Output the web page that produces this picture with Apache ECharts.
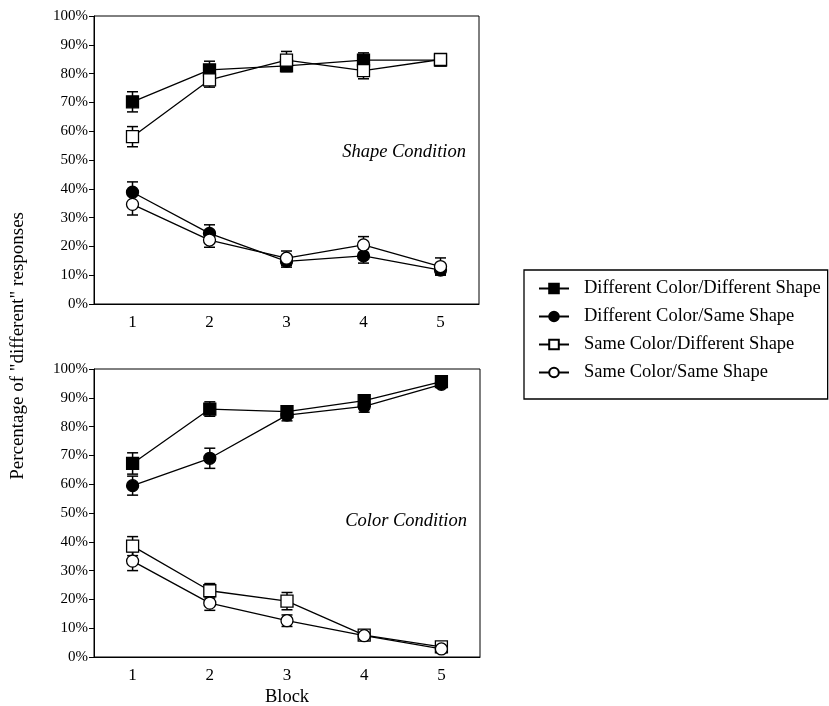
<!DOCTYPE html>
<html><head><meta charset="utf-8">
<script src="https://cdn.jsdelivr.net/npm/echarts@6/dist/echarts.min.js"></script>
<style>html,body{margin:0;padding:0;background:#fff}#c{width:829px;height:706px}</style>
</head><body><div id="c"></div>
<script>
const blocks = ['1', '2', '3', '4', '5'];
const yTicks = [0, 10, 20, 30, 40, 50, 60, 70, 80, 90, 100];
const seriesNames = ['Different Color/Different Shape', 'Different Color/Same Shape', 'Same Color/Different Shape', 'Same Color/Same Shape'];

// Shape Condition (top panel): means and standard errors
const shapeDCDS = [70.2, 81.3, 82.7, 84.7, 84.7];
const shapeDCDSerr = [3.5, 3.0, 2.0, 2.5, 2.0];
const shapeDCSS = [38.8, 24.5, 14.8, 16.7, 11.8];
const shapeDCSSerr = [3.6, 3.0, 2.0, 2.5, 1.5];
const shapeSCDS = [58.1, 77.8, 84.7, 81.0, 84.9];
const shapeSCDSerr = [3.5, 2.5, 3.0, 2.8, 2.0];
const shapeSCSS = [34.6, 22.2, 15.9, 20.5, 13.0];
const shapeSCSSerr = [3.7, 2.5, 2.5, 2.9, 3.0];

// Color Condition (bottom panel)
const colorDCDS = [67.2, 86.1, 85.2, 89.0, 95.6];
const colorDCDSerr = [3.7, 2.5, 2.0, 2.0, 1.0];
const colorDCSS = [59.5, 69.0, 84.0, 87.0, 94.7];
const colorDCSSerr = [3.3, 3.5, 2.0, 2.0, 1.0];
const colorSCDS = [38.5, 23.0, 19.4, 7.6, 3.5];
const colorSCDSerr = [3.3, 2.5, 3.0, 1.5, 1.0];
const colorSCSS = [33.3, 18.7, 12.6, 7.4, 2.8];
const colorSCSSerr = [3.3, 2.5, 2.0, 1.5, 1.0];

const FONT = 'Liberation Serif';
const styles = [
  {symbol: 'rect', fill: '#000'},
  {symbol: 'circle', fill: '#000'},
  {symbol: 'rect', fill: '#fff'},
  {symbol: 'circle', fill: '#fff'}
];

function lineSeries(idx, data, gi) {
  return {
    type: 'line', name: seriesNames[idx], xAxisIndex: gi, yAxisIndex: gi,
    data: data, symbol: styles[idx].symbol, symbolSize: 12,
    showAllSymbol: true, z: 5 + idx,
    lineStyle: {color: '#000', width: 1.3},
    itemStyle: {color: styles[idx].fill, borderColor: '#000', borderWidth: 1.3},
    emphasis: {disabled: true}
  };
}
function errSeries(means, errs, gi) {
  return {
    type: 'custom', xAxisIndex: gi, yAxisIndex: gi, z: 3, silent: true,
    data: means.map((m, i) => [i, m, errs[i]]),
    renderItem: function (params, api) {
      const x = api.value(0), m = api.value(1), e = api.value(2);
      const hi = api.coord([x, m + e]);
      const lo = api.coord([x, m - e]);
      const w = 5.5;
      const st = {stroke: '#000', lineWidth: 1.5};
      return {type: 'group', children: [
        {type: 'line', shape: {x1: hi[0], y1: hi[1], x2: lo[0], y2: lo[1]}, style: st},
        {type: 'line', shape: {x1: hi[0] - w, y1: hi[1], x2: hi[0] + w, y2: hi[1]}, style: st},
        {type: 'line', shape: {x1: lo[0] - w, y1: lo[1], x2: lo[0] + w, y2: lo[1]}, style: st}
      ]};
    }
  };
}

function xAx(gi, withName) {
  return {
    type: 'category', gridIndex: gi, data: blocks, boundaryGap: true,
    axisLine: {lineStyle: {color: '#000', width: 1}},
    axisTick: {alignWithLabel: true, length: 5, lineStyle: {color: '#000'}},
    axisLabel: {margin: 10, color: '#000', fontFamily: FONT, fontSize: 17},
    name: withName ? 'Block' : '', nameLocation: 'middle', nameGap: 31,
    nameTextStyle: {color: '#000', fontFamily: FONT, fontSize: 18.5},
    splitLine: {show: false}
  };
}
function yAx(gi) {
  return {
    type: 'value', gridIndex: gi, min: 0, max: 100, interval: 10,
    axisLine: {show: true, lineStyle: {color: '#000', width: 1}},
    axisTick: {show: true, length: 5, lineStyle: {color: '#000'}},
    axisLabel: {margin: 6, color: '#000', fontFamily: FONT, fontSize: 15,
      formatter: v => yTicks.includes(v) ? v + '%' : ''},
    splitLine: {show: false}
  };
}

const chart = echarts.init(document.getElementById('c'), null, {renderer: 'canvas'});
chart.setOption({
  backgroundColor: '#fff',
  animation: false,
  grid: [
    {left: 94, top: 16, width: 385, height: 288, show: true, borderColor: '#000', borderWidth: 1,
     backgroundColor: 'transparent', containLabel: false, outerBoundsMode: 'none'},
    {left: 94, top: 369, width: 386, height: 288, show: true, borderColor: '#000', borderWidth: 1,
     backgroundColor: 'transparent', containLabel: false, outerBoundsMode: 'none'}
  ],
  xAxis: [xAx(0, false), xAx(1, true)],
  yAxis: [yAx(0), yAx(1)],
  legend: {
    orient: 'vertical', left: 524, top: 270,
    data: seriesNames, itemWidth: 30, itemHeight: 12, itemGap: 9,
    padding: [9, 7, 17, 14],
    borderColor: '#000', borderWidth: 1.3,
    textStyle: {color: '#000', fontFamily: FONT, fontSize: 18.5, padding: [0, 0, 0, 10]},
    selectedMode: false
  },
  graphic: [
    {type: 'text', left: 9, top: 212, rotation: Math.PI / 2,
     style: {text: 'Percentage of "different" responses', fill: '#000', font: '19px "Liberation Serif"'}},
    {type: 'text', right: 829 - 466, top: 143,
     style: {text: 'Shape Condition', fill: '#000', font: 'italic 18.5px "Liberation Serif"'}},
    {type: 'text', right: 829 - 467, top: 512,
     style: {text: 'Color Condition', fill: '#000', font: 'italic 18.5px "Liberation Serif"'}}
  ],
  series: [
    errSeries(shapeDCDS, shapeDCDSerr, 0), errSeries(shapeDCSS, shapeDCSSerr, 0),
    errSeries(shapeSCDS, shapeSCDSerr, 0), errSeries(shapeSCSS, shapeSCSSerr, 0),
    lineSeries(0, shapeDCDS, 0), lineSeries(1, shapeDCSS, 0),
    lineSeries(2, shapeSCDS, 0), lineSeries(3, shapeSCSS, 0),
    errSeries(colorDCDS, colorDCDSerr, 1), errSeries(colorDCSS, colorDCSSerr, 1),
    errSeries(colorSCDS, colorSCDSerr, 1), errSeries(colorSCSS, colorSCSSerr, 1),
    lineSeries(0, colorDCDS, 1), lineSeries(1, colorDCSS, 1),
    lineSeries(2, colorSCDS, 1), lineSeries(3, colorSCSS, 1)
  ]
});
</script></body></html>
